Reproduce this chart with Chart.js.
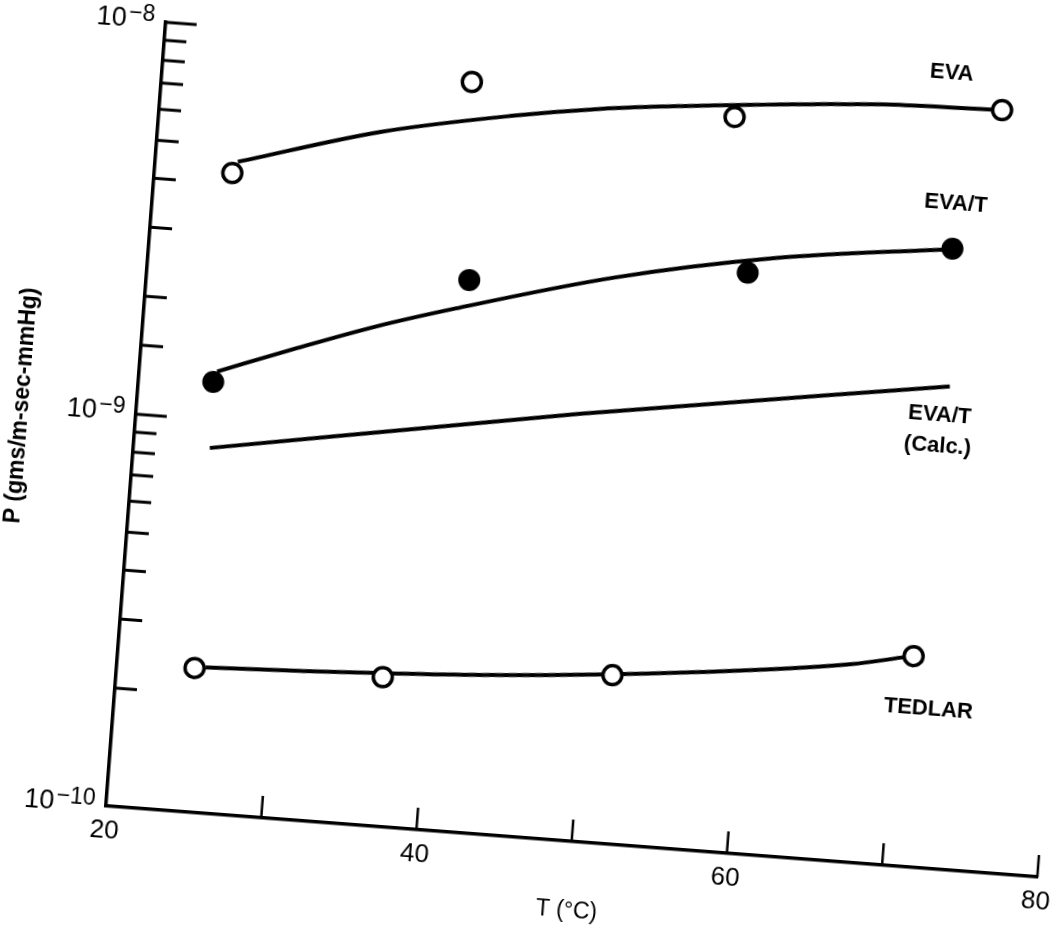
<!DOCTYPE html>
<html><head><meta charset="utf-8">
<script src="https://cdn.jsdelivr.net/npm/chart.js@4.4.1/dist/chart.umd.min.js"></script>
<style>
html,body{margin:0;padding:0;background:#fff;width:1057px;height:928px;overflow:hidden;}
#wrap{position:absolute;left:-34px;top:-34px;width:1100px;height:930px;transform-origin:140px 840px;transform:rotate(4.36deg);}
canvas{display:block;}
</style></head><body>
<div id="wrap"><canvas id="c" width="1100" height="930"></canvas></div>
<script>
// Measured points
const evaT   = [25.0, 39.9, 56.9, 74.0];
const evaP   = [4.27e-9, 8.09e-9, 7.41e-9, 8.69e-9];
const evatT  = [24.8, 40.7, 58.5, 71.5];
const evatP  = [1.25e-9, 2.54e-9, 3.00e-9, 3.78e-9];
const tedT   = [25.0, 37.1, 51.8, 71.0];
const tedP   = [2.33e-10, 2.40e-10, 2.69e-10, 3.44e-10];
// Fitted curves
const evaFitT  = [25.3, 34.3, 42.5, 48.2, 53.3, 67.4, 73.5];
const evaFitP  = [4.57e-9, 5.80e-9, 6.74e-9, 7.31e-9, 7.70e-9, 8.56e-9, 8.67e-9];
const evatFitT = [25.0, 30.0, 35.0, 40.0, 50.0, 60.0, 71.4];
const evatFitP = [1.33e-9, 1.58e-9, 1.86e-9, 2.14e-9, 2.75e-9, 3.30e-9, 3.77e-9];
const calcT    = [24.9, 48.4, 72.0];
const calcP    = [8.48e-10, 1.22e-9, 1.69e-9];
const tedFitT  = [25.7, 31.8, 44.6, 57.4, 67.0, 70.5];
const tedFitP  = [2.35e-10, 2.40e-10, 2.56e-10, 2.85e-10, 3.19e-10, 3.41e-10];
// Tick labels
const xTickLabels = [20, 40, 60, 80];
const yTickValues = [1e-10, 1e-9, 1e-8];
const yTickBase   = ['10', '10', '10'];
const yTickExp    = ['\u221210', '\u22129', '\u22128'];
// Curve labels and their anchors (data coordinates)
const curveLabels = [['EVA'], ['EVA/T'], ['EVA/T', '(Calc.)'], ['TEDLAR']];
const labelT = [70.6, 71.5, 71.5, 72.2];
const labelP = [1.055e-8, 4.92e-9, 1.297e-9, 2.54e-10];

const pts = (xs, ys) => xs.map((v, i) => ({x: v, y: ys[i]}));
const FONT = "'Liberation Sans', Arial, sans-serif";

function mantissa(v){ const e = Math.floor(Math.log10(v) + 1e-6); return Math.round(v / Math.pow(10, e)); }

const decor = {
  id: 'decor',
  afterDraw(chart){
    const {ctx, chartArea: a, scales: {x, y}} = chart;
    ctx.save();
    ctx.strokeStyle = '#000';
    // inward tick marks
    y.ticks.forEach(t => {
      const v = t.value;
      if (v <= y.min * 1.0001) return;
      const py = y.getPixelForValue(v);
      const len = mantissa(v) === 1 ? 31 : 22;
      ctx.lineWidth = 3;
      ctx.beginPath(); ctx.moveTo(a.left, py); ctx.lineTo(a.left + len, py); ctx.stroke();
    });
    x.ticks.forEach(t => {
      if (t.value <= x.min) return;
      const px = x.getPixelForValue(t.value);
      ctx.lineWidth = 2.5;
      ctx.beginPath(); ctx.moveTo(px, a.bottom); ctx.lineTo(px, a.bottom - 22); ctx.stroke();
    });
    ctx.fillStyle = '#000';
    // y tick labels with superscript exponent
    ctx.textBaseline = 'middle';
    ctx.textAlign = 'left';
    yTickValues.forEach((v, i) => {
      const py = y.getPixelForValue(v);
      ctx.font = '27px ' + FONT;
      const wb = ctx.measureText(yTickBase[i]).width;
      ctx.font = '23px ' + FONT;
      const we = ctx.measureText(yTickExp[i]).width;
      const x0 = a.left - 11 - wb - we - 2;
      ctx.font = '27px ' + FONT;
      ctx.fillText(yTickBase[i], x0, py);
      ctx.font = '23px ' + FONT;
      ctx.fillText(yTickExp[i], x0 + wb + 2, py - 6);
    });
    // curve labels
    ctx.textAlign = 'center';
    ctx.font = 'bold 22px ' + FONT;
    curveLabels.forEach((lines, i) => {
      const px = x.getPixelForValue(labelT[i]);
      const py = y.getPixelForValue(labelP[i]);
      const lh = 31;
      lines.forEach((s, j) => {
        ctx.fillText(s, px, py + (j - (lines.length - 1) / 2) * lh);
      });
    });
    ctx.restore();
  }
};

const lineDs = (label, data) => ({
  type: 'line', label, data, borderColor: '#000', borderWidth: 4,
  pointRadius: 0, fill: false, cubicInterpolationMode: 'monotone', order: 2
});
const ptDs = (label, data, filled) => ({
  type: 'scatter', label, data, showLine: false,
  pointRadius: filled ? 11 : 9.5, pointBorderWidth: filled ? 0 : 3.5,
  pointBackgroundColor: filled ? '#000' : '#fff', pointBorderColor: '#000', order: 1
});

new Chart(document.getElementById('c'), {
  data: {
    datasets: [
      ptDs('EVA', pts(evaT, evaP), false),
      ptDs('EVA/T', pts(evatT, evatP), true),
      ptDs('TEDLAR', pts(tedT, tedP), false),
      lineDs('EVA fit', pts(evaFitT, evaFitP)),
      lineDs('EVA/T fit', pts(evatFitT, evatFitP)),
      lineDs('EVA/T (Calc.)', pts(calcT, calcP)),
      lineDs('TEDLAR fit', pts(tedFitT, tedFitP))
    ]
  },
  options: {
    responsive: false, animation: false, devicePixelRatio: 1,
    layout: {padding: {left: 0, top: 54, right: 26, bottom: 0}},
    plugins: {legend: {display: false}, tooltip: {enabled: false}},
    scales: {
      x: {
        type: 'linear', min: 20, max: 80,
        afterFit(s){ s.height = 90; },
        border: {display: true, color: '#000', width: 3.5},
        grid: {display: false, drawTicks: false},
        ticks: {
          stepSize: 10, autoSkip: false, maxRotation: 0, padding: 9,
          color: '#000', font: {family: FONT, size: 26},
          callback: v => xTickLabels.includes(v) ? String(v) : ''
        },
        title: {display: true, text: 'T (\u00B0C)', color: '#000',
                font: {family: FONT, size: 23}, padding: {top: 0, bottom: 7}}
      },
      y: {
        type: 'logarithmic', min: 1e-10, max: 1e-8,
        afterFit(s){ s.width = 140; },
        border: {display: true, color: '#000', width: 3.5},
        grid: {display: false, drawTicks: false},
        ticks: {
          autoSkip: false, padding: 11, color: '#000', font: {family: FONT, size: 26},
          callback: () => ''
        },
        title: {display: true, text: 'P (gms/m-sec-mmHg)', color: '#000',
                font: {family: FONT, size: 23, weight: 'bold'}, padding: {top: 12, bottom: 0}}
      }
    }
  },
  plugins: [decor]
});
</script>
</body></html>
